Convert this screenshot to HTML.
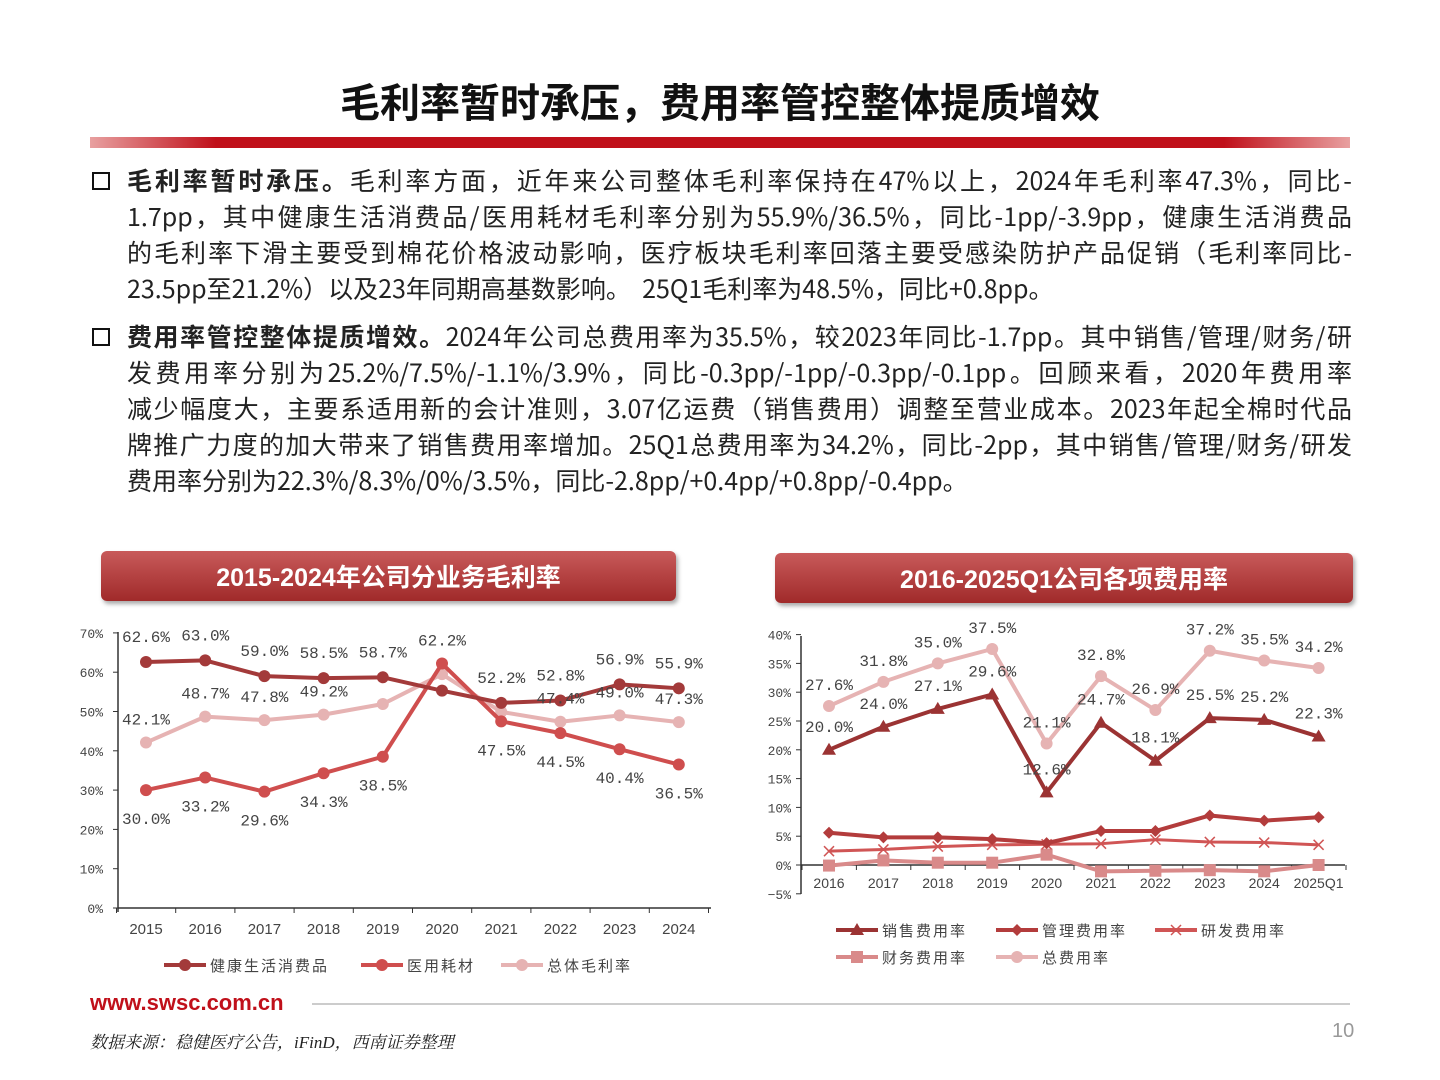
<!DOCTYPE html>
<html><head><meta charset="utf-8">
<style>
body{margin:0;width:1440px;height:1080px;background:#fff;position:relative;overflow:hidden;font-family:"Liberation Sans","Noto Sans CJK SC",sans-serif;color:#222}
.abs{position:absolute}
#title{left:0;width:1440px;top:74px;text-align:center;font-size:40px;font-weight:bold;color:#111;font-family:"Noto Sans CJK SC",sans-serif;line-height:52px}
#bar{left:90px;top:137px;width:1260px;height:11px;background:linear-gradient(90deg,#e8a0a0,#c0101a 10%,#c0101a 90%,#e8a0a0)}
.para{left:127px;width:1225px;font-size:25px;color:#222;font-family:"Noto Sans CJK SC",sans-serif}
.ln{height:36px;line-height:36px;white-space:nowrap;text-align:justify;text-align-last:justify;overflow:visible}
.ln.last{text-align-last:left}
.box{width:14px;height:14px;border:2.5px solid #111;left:92px}
.hdr{height:50px;border-radius:6px;background:linear-gradient(#c85a5a,#a02a2a);color:#fff;font-weight:bold;font-size:25px;text-align:center;line-height:54px;box-shadow:2px 3px 4px #aaa}
</style></head><body>
<div id="title" class="abs">毛利率暂时承压，费用率管控整体提质增效</div>
<div id="bar" class="abs"></div>
<div class="abs box" style="top:172px"></div>
<div class="abs para" style="top:162px">
<div class="ln"><b>毛利率暂时承压。</b>毛利率方面，近年来公司整体毛利率保持在47%以上，2024年毛利率47.3%，同比-</div>
<div class="ln">1.7pp，其中健康生活消费品/医用耗材毛利率分别为55.9%/36.5%，同比-1pp/-3.9pp，健康生活消费品</div>
<div class="ln">的毛利率下滑主要受到棉花价格波动影响，医疗板块毛利率回落主要受感染防护产品促销（毛利率同比-</div>
<div class="ln last">23.5pp至21.2%）以及23年同期高基数影响。&nbsp; 25Q1毛利率为48.5%，同比+0.8pp。</div>
</div>
<div class="abs box" style="top:328px"></div>
<div class="abs para" style="top:318px">
<div class="ln"><b>费用率管控整体提质增效。</b>2024年公司总费用率为35.5%，较2023年同比-1.7pp。其中销售/管理/财务/研</div>
<div class="ln">发费用率分别为25.2%/7.5%/-1.1%/3.9%，同比-0.3pp/-1pp/-0.3pp/-0.1pp。回顾来看，2020年费用率</div>
<div class="ln">减少幅度大，主要系适用新的会计准则，3.07亿运费（销售费用）调整至营业成本。2023年起全棉时代品</div>
<div class="ln">牌推广力度的加大带来了销售费用率增加。25Q1总费用率为34.2%，同比-2pp，其中销售/管理/财务/研发</div>
<div class="ln last">费用率分别为22.3%/8.3%/0%/3.5%，同比-2.8pp/+0.4pp/+0.8pp/-0.4pp。</div>
</div>
<div class="abs hdr" style="left:101px;top:551px;width:575px">2015-2024年公司分业务毛利率</div>
<div class="abs hdr" style="left:775px;top:553px;width:578px">2016-2025Q1公司各项费用率</div>
<svg class="abs" style="left:0;top:0" width="1440" height="1080" id="svg"></svg>
<div class="abs" style="left:90px;top:990px;font-size:22px;color:#c0101a;font-weight:bold">www.swsc.com.cn</div>
<div class="abs" style="left:312px;top:1003px;width:1038px;height:2px;background:#ccc"></div>
<div class="abs" style="left:90px;top:1028px;font-size:17px;font-style:italic;font-family:'Liberation Serif','Noto Serif CJK SC',serif">数据来源：稳健医疗公告，iFinD，西南证券整理</div>
<div class="abs" style="left:1332px;top:1020px;font-size:20px;color:#999">10</div>
<script>
// left chart data
const lCats=["2015","2016","2017","2018","2019","2020","2021","2022","2023","2024"];
const lHealth=[62.6,63.0,59.0,58.5,58.7,55.3,52.2,52.8,56.9,55.9];
const lMed=[30.0,33.2,29.6,34.3,38.5,62.2,47.5,44.5,40.4,36.5];
const lTotal=[42.1,48.7,47.8,49.2,51.9,59.5,49.9,47.4,49.0,47.3];
const lHealthLbl=["62.6%","63.0%","59.0%","58.5%","58.7%","","52.2%","52.8%","56.9%","55.9%"];
const lMedLbl=["30.0%","33.2%","29.6%","34.3%","38.5%","62.2%","47.5%","44.5%","40.4%","36.5%"];
const lTotalLbl=["42.1%","48.7%","47.8%","49.2%","","","","47.4%","49.0%","47.3%"];
const lTicks=[0,10,20,30,40,50,60,70];
// right chart data
const rCats=["2016","2017","2018","2019","2020","2021","2022","2023","2024","2025Q1"];
const rSales=[20.0,24.0,27.1,29.6,12.6,24.7,18.1,25.5,25.2,22.3];
const rAdmin=[5.6,4.8,4.8,4.5,3.8,5.9,5.9,8.6,7.7,8.3];
const rRD=[2.4,2.7,3.2,3.5,3.6,3.7,4.4,4.0,3.9,3.5];
const rFin=[-0.1,0.8,0.4,0.4,1.8,-1.1,-1.0,-0.9,-1.1,0.0];
const rTotal=[27.6,31.8,35.0,37.5,21.1,32.8,26.9,37.2,35.5,34.2];
const rSalesLbl=["20.0%","24.0%","27.1%","29.6%","12.6%","24.7%","18.1%","25.5%","25.2%","22.3%"];
const rTotalLbl=["27.6%","31.8%","35.0%","37.5%","21.1%","32.8%","26.9%","37.2%","35.5%","34.2%"];
const rTicks=[-5,0,5,10,15,20,25,30,35,40];

const svg=document.getElementById('svg');const NS="http://www.w3.org/2000/svg";
function mk(t,a,p){const e=document.createElementNS(NS,t);for(const k in a)e.setAttribute(k,a[k]);(p||svg).appendChild(e);return e;}
const LF='"Liberation Mono","Noto Sans CJK SC",monospace';
const lx=i=>146+i*59.2, ly=v=>908-v*3.93;
mk('line',{x1:118,y1:632,x2:118,y2:912,stroke:'#333','stroke-width':1.5});
mk('line',{x1:118,y1:908,x2:711,y2:908,stroke:'#333','stroke-width':1.5});
lTicks.forEach(t=>{mk('line',{x1:113,y1:ly(t),x2:118,y2:ly(t),stroke:'#333'});
 const tx=mk('text',{x:103,y:ly(t)+5,'text-anchor':'end','font-size':13,fill:'#444','font-family':LF});tx.textContent=t+'%';
 
 });
for(let i=0;i<=10;i++)mk('line',{x1:116.5+i*59.2,y1:908,x2:116.5+i*59.2,y2:913,stroke:'#333'});
lCats.forEach((c,i)=>{const t=mk('text',{x:lx(i),y:934,'text-anchor':'middle','font-size':15,fill:'#444'});t.textContent=c;
 
 });
function series(vals,X,Y,col,w,marker,name){
 const g=mk('g',{});
 
 
 mk('polyline',{points:vals.map((v,i)=>X(i)+','+Y(v)).join(' '),fill:'none',stroke:col,'stroke-width':w,'stroke-linejoin':'round'},g);
 vals.forEach((v,i)=>drawMarker(g,marker,X(i),Y(v),col));return g;}
function drawMarker(g,m,x,y,col){
 if(m==='circle')mk('circle',{cx:x,cy:y,r:6,fill:col},g);
 else if(m==='tri')mk('polygon',{points:`${x},${y-7} ${x-7},${y+5} ${x+7},${y+5}`,fill:col},g);
 else if(m==='dia')mk('polygon',{points:`${x},${y-6} ${x-6},${y} ${x},${y+6} ${x+6},${y}`,fill:col},g);
 else if(m==='x'){mk('line',{x1:x-5,y1:y-5,x2:x+5,y2:y+5,stroke:col,'stroke-width':1.5},g);mk('line',{x1:x-5,y1:y+5,x2:x+5,y2:y-5,stroke:col,'stroke-width':1.5},g);}
 else if(m==='sq')mk('rect',{x:x-6,y:y-6,width:12,height:12,fill:col},g);}
function labels(lbls,vals,X,Y,dyf,name){lbls.forEach((l,i)=>{if(!l)return;const t=mk('text',{x:X(i),y:Y(vals[i])+dyf(i,vals),'text-anchor':'middle','font-size':16,fill:'#444','font-family':LF});t.textContent=l;
 
 });}
const C1='#a33a3a',C2='#cf4e4e',C3='#e6b3b3';
series(lTotal,lx,ly,C3,4,'circle','series-total-gross-margin');
series(lMed,lx,ly,C2,4,'circle','series-medical-consumables');
series(lHealth,lx,ly,C1,4,'circle','series-health-consumer');
labels(lHealthLbl,lHealth,lx,ly,()=>-20,'health-label');
labels(lMedLbl,lMed,lx,ly,(i,v)=>v[i]===Math.max(...v)?-18:34,'medical-label');
labels(lTotalLbl,lTotal,lx,ly,()=>-18,'total-label');
const rx=i=>829+i*54.4, ry=v=>865-v*5.76;
mk('line',{x1:801,y1:636,x2:801,y2:894,stroke:'#333','stroke-width':1.5});
mk('line',{x1:801,y1:865,x2:1345,y2:865,stroke:'#333','stroke-width':1.5});
rTicks.forEach(t=>{mk('line',{x1:796,y1:ry(t),x2:801,y2:ry(t),stroke:'#333'});
 const tx=mk('text',{x:791,y:ry(t)+5,'text-anchor':'end','font-size':13,fill:'#444','font-family':LF});tx.textContent=(t<0?'−':'')+Math.abs(t)+'%';
 
 });
for(let i=0;i<=10;i++)mk('line',{x1:802+i*54.4,y1:865,x2:802+i*54.4,y2:870,stroke:'#333'});
rCats.forEach((c,i)=>{const t=mk('text',{x:rx(i),y:888,'text-anchor':'middle','font-size':14,fill:'#444'});t.textContent=c;
 
 });
series(rFin,rx,ry,'#d98a8a',4,'sq','series-finance');
series(rRD,rx,ry,'#d05555',3,'x','series-rd');
series(rAdmin,rx,ry,'#b33c3c',4,'dia','series-admin');
series(rTotal,rx,ry,C3,4,'circle','series-total-expense');
series(rSales,rx,ry,'#9b3333',4,'tri','series-sales');
labels(rTotalLbl,rTotal,rx,ry,()=>-16,'total-expense-label');
labels(rSalesLbl,rSales,rx,ry,()=>-18,'sales-label');
function leg(x,y,col,m,txt,name){const g=mk('g',{});
 
 
 mk('line',{x1:x,y1:y,x2:x+42,y2:y,stroke:col,'stroke-width':4},g);drawMarker(g,m,x+21,y,col);
 const t=mk('text',{x:x+46,y:y+6,'font-size':15,fill:'#444','letter-spacing':2},g);t.textContent=txt;}
leg(164,965,C1,'circle','健康生活消费品','legend-health');
leg(361,965,C2,'circle','医用耗材','legend-medical');
leg(501,965,C3,'circle','总体毛利率','legend-total');
leg(836,930,'#9b3333','tri','销售费用率','legend-sales');
leg(996,930,'#b33c3c','dia','管理费用率','legend-admin');
leg(1155,930,'#d05555','x','研发费用率','legend-rd');
leg(836,957,'#d98a8a','sq','财务费用率','legend-finance');
leg(996,957,C3,'circle','总费用率','legend-total-expense');
</script>
</body></html>
